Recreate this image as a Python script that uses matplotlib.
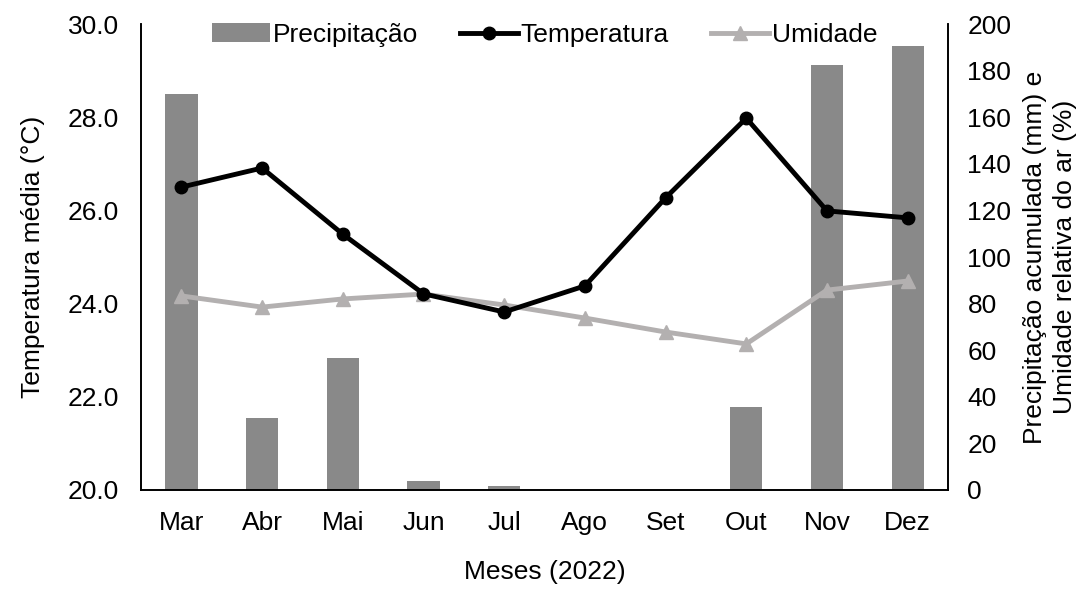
import numpy as np
import matplotlib
matplotlib.use('Agg')
import matplotlib.pyplot as plt

plt.rcParams['font.family'] = ['Liberation Sans', 'DejaVu Sans']

meses = ['Mar', 'Abr', 'Mai', 'Jun', 'Jul', 'Ago', 'Set', 'Out', 'Nov', 'Dez']
precipitacao = [170.0, 30.9, 56.6, 3.9, 1.7, 0.0, 0.0, 35.6, 182.4, 190.6]
temperatura = [26.50, 26.91, 25.49, 24.21, 23.82, 24.38, 26.27, 27.98, 25.99, 25.84]
umidade = [83.3, 78.5, 82.0, 84.1, 79.4, 73.8, 67.8, 62.7, 85.8, 89.7]

x = np.arange(len(meses))
fs = 19

fig = plt.figure(figsize=(10.8, 5.9), dpi=100)
ax = fig.add_axes([0.1306, 0.1695, 0.7472, 0.7898])
ax2 = ax.twinx()

# bars + humidity on right axis, temperature on left (drawn on top)
bars = ax2.bar(x, precipitacao, width=0.4, color='#898989', label='Precipitação', zorder=1)
hum, = ax2.plot(x, umidade, color='#b3b0b0', lw=3.5, marker='^', ms=10,
                label='Umidade', zorder=2)
ax.set_zorder(ax2.get_zorder() + 1)
ax.patch.set_visible(False)
temp, = ax.plot(x, temperatura, color='black', lw=3.5, marker='o', ms=9,
                label='Temperatura', zorder=3)

ax.set_xlim(-0.5, len(meses) - 0.5)
ax.set_ylim(20, 30)
ax.set_yticks(np.arange(20, 30.1, 2))
ax.set_yticklabels(['%.1f' % v for v in np.arange(20, 30.1, 2)])
ax2.set_ylim(0, 200)
ax2.set_yticks(np.arange(0, 201, 20))
ax.set_xticks(x)
ax.set_xticklabels(meses)

for a in (ax, ax2):
    a.tick_params(axis='both', length=0, labelsize=fs, pad=16)
    a.spines['top'].set_visible(False)
    for s in ('left', 'right', 'bottom'):
        a.spines[s].set_linewidth(1.2)
        a.spines[s].set_color('black')
ax.tick_params(axis='x', pad=15)
ax2.tick_params(axis='y', pad=14)

ax.set_ylabel('Temperatura média (°C)', fontsize=fs, labelpad=16)
fig.text(0.9725, 0.564, 'Precipitação acumulada (mm) e\nUmidade relativa do ar (%)',
         fontsize=fs, rotation=90, ha='center', va='center', linespacing=1.3,
         multialignment='center')
ax.set_xlabel('Meses (2022)', fontsize=fs, labelpad=18)

leg = ax.legend([bars, temp, hum], ['Precipitação', 'Temperatura', 'Umidade'],
                loc='upper center', bbox_to_anchor=(0.5, 1.025), ncol=3, frameon=False,
                fontsize=fs, handlelength=2.2, handletextpad=0.1, columnspacing=1.6,
                borderaxespad=0.0)

fig.savefig('out.png', dpi=100)
